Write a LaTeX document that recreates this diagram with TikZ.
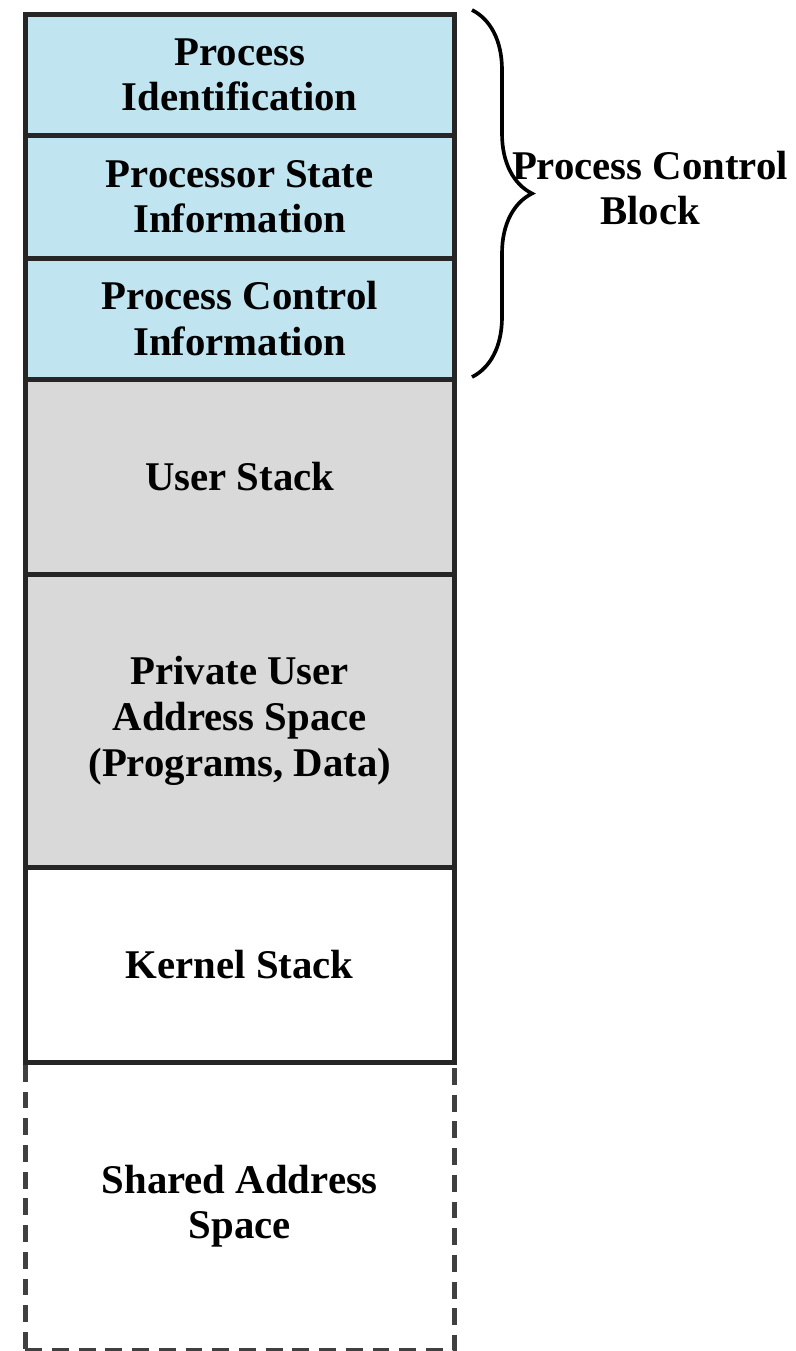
\documentclass[tikz,border=0pt]{standalone}
\usepackage{fontspec}
\setmainfont{Liberation Serif}
\usetikzlibrary{decorations.pathreplacing}
\definecolor{pcbblue}{RGB}{192,228,240}
\definecolor{usergray}{RGB}{217,217,217}
\begin{document}
\begin{tikzpicture}[x=0.025cm, y=-0.025cm,
        seg/.style={draw=black!85, line width=3.2pt, minimum width=10.725cm,
            inner sep=0pt, align=center, anchor=north west,
            font=\fontsize{29}{32.5}\selectfont\bfseries},
        shareseg/.style={seg, draw=black!75, dash pattern=on 12pt off 7pt},
        pcbbrace/.style={decorate, decoration={brace, amplitude=1.5cm}, line width=2.6pt},
        lbl/.style={align=center, font=\fontsize{29}{32.5}\selectfont\bfseries}]
    \useasboundingbox (0,0) rectangle (796,1351);

        % process control block
        \node[seg, fill=pcbblue, minimum height=3.025cm] (pid) at (23,12){Process\\Identification};
        \node[seg, fill=pcbblue, minimum height=3.075cm] (pstate) at (23,133){Processor State\\Information};
        \node[seg, fill=pcbblue, minimum height=3.025cm] (pctrl) at (23,256){Process Control\\Information};

        % user part
        \node[seg, fill=usergray, minimum height=4.875cm] (ustack) at (23,377){User Stack};
        \node[seg, fill=usergray, minimum height=7.325cm] (uspace) at (23,572){Private User\\Address Space\\(Programs, Data)};

        % kernel and shared
        \node[shareseg, minimum height=7.2cm] (shared) at (23,1060){Shared Address\\Space};
        \node[seg, minimum height=4.875cm] (kstack) at (23,865){Kernel Stack};

        \coordinate (pcbtop) at (472,10);
        \coordinate (pcbbot) at (472,377);
        \draw[pcbbrace] (pcbtop) to (pcbbot);

        \node[lbl] (pcblabel) at (650,188){Process Control\\Block};
\end{tikzpicture}
\end{document}
